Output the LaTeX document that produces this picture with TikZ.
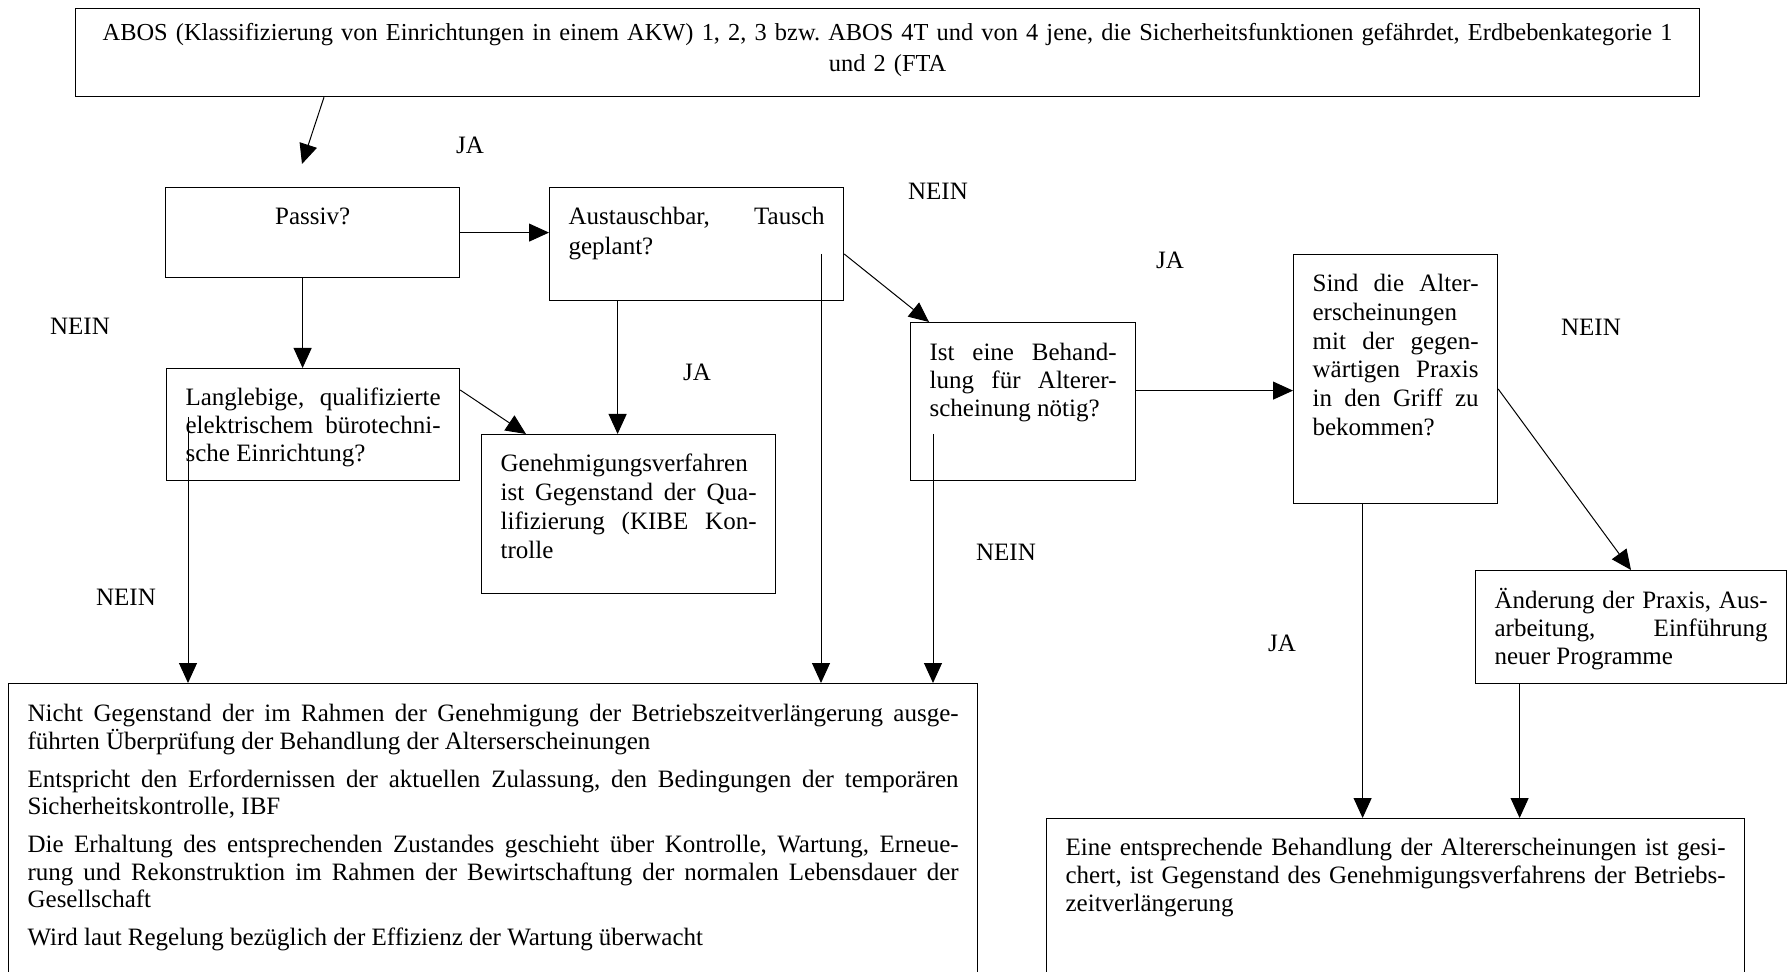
\documentclass[tikz,border=0pt]{standalone}
\usepackage{fontspec}
\setmainfont{Liberation Serif}
\usepackage{tikz}
\usetikzlibrary{calc,arrows.meta}
\tikzstyle{boite} = [rectangle, draw=black, line width=0.6pt, anchor=north west, inner xsep=9.5pt, inner ysep=0pt, text height=18.5pt, align=justify]
\tikzstyle{fleche} = [line width=0.5pt, -{Triangle[length=10pt,width=9pt]}]
\tikzstyle{reponse} = [inner sep=0pt]
\hyphenpenalty=10000
\frenchspacing

\begin{document}
\begin{tikzpicture}[x=1pt, y=1pt, font=\fontsize{12.5pt}{14pt}\selectfont]
        \useasboundingbox (0,0) rectangle (894,-486);
        \clip (0,0) rectangle (894,-486);

        \node (abos) [boite, text width=793pt, align=center, text height=16pt, text depth=28pt, font=\fontsize{12.2pt}{14pt}\selectfont] at (37.5,-4) {ABOS (Klassifizierung von Einrichtungen in einem AKW) 1, 2, 3 bzw. ABOS 4T und von 4 jene, die Sicherheitsfunktionen gefährdet, Erdbebenkategorie 1\\[1.5pt]
            und 2 (FTA};

        \node (passiv) [boite, text width=128pt, align=center, text depth=26.5pt] at (82.5,-93.5) {Passiv?};
        \node (tausch) [boite, text width=128pt, text depth=38pt, font=\fontsize{12.5pt}{15pt}\selectfont] at (274.5,-93.5) {Austauschbar, Tausch\linebreak geplant?};
        \node (langlebig) [boite, text width=127.5pt, text depth=37.5pt] at (83,-184) {Langlebige, qualifizierte\linebreak elektrischem bürotechni-\linebreak sche Einrichtung?};
        \node (genehm) [boite, text width=128pt, text depth=61pt, font=\fontsize{12.5pt}{14.5pt}\selectfont] at (240.5,-217) {Genehmigungsverfahren\linebreak ist Gegenstand der Qua-\linebreak lifizierung (KIBE Kon-\linebreak trolle};
        \node (behandl) [boite, text width=93.5pt, text height=19pt, text depth=60pt] at (455,-161) {Ist eine Behand-\linebreak lung für Alterer-\linebreak scheinung nötig?};
        \node (praxis) [boite, text width=83pt, text depth=106pt, font=\fontsize{12.5pt}{14.4pt}\selectfont] at (646.5,-127) {Sind die Alter-\linebreak erscheinungen\linebreak mit der gegen-\linebreak wärtigen Praxis\linebreak in den Griff zu\linebreak bekommen?};
        \node (aenderung) [boite, text width=136.5pt, text height=19pt, text depth=37.5pt] at (737.5,-285) {Änderung der Praxis, Aus-\linebreak arbeitung, Einführung\linebreak neuer Programme};

        \node (nicht) [boite, text width=465.5pt, text height=19pt, text depth=131pt, font=\fontsize{12.5pt}{13.75pt}\selectfont] at (4,-341.5) {\parskip=5.25pt
            Nicht Gegenstand der im Rahmen der Genehmigung der Betriebszeitverlängerung ausge-\linebreak führten Überprüfung der Behandlung der Alterserscheinungen\par
            Entspricht den Erfordernissen der aktuellen Zulassung, den Bedingungen der temporären\linebreak Sicherheitskontrolle, IBF\par
            Die Erhaltung des entsprechenden Zustandes geschieht über Kontrolle, Wartung, Erneue-\linebreak rung und Rekonstruktion im Rahmen der Bewirtschaftung der normalen Lebensdauer der\linebreak Gesellschaft\par
            Wird laut Regelung bezüglich der Effizienz der Wartung überwacht};
        \node (gesichert) [boite, text width=330pt, text depth=63.5pt] at (523,-409) {Eine entsprechende Behandlung der Altererscheinungen ist gesi-\linebreak chert, ist Gegenstand des Genehmigungsverfahrens der Betriebs-\linebreak zeitverlängerung};

        \node (ja1) [reponse] at (235,-72.5) {JA};
        \node (nein1) [reponse] at (469,-95.5) {NEIN};
        \node (nein2) [reponse] at (40,-163) {NEIN};
        \node (ja2) [reponse] at (348.5,-186) {JA};
        \node (ja3) [reponse] at (585,-130) {JA};
        \node (nein3) [reponse] at (795.5,-163.5) {NEIN};
        \node (nein4) [reponse] at (503,-276) {NEIN};
        \node (nein5) [reponse] at (63,-298.5) {NEIN};
        \node (ja4) [reponse] at (641,-321.5) {JA};

        \coordinate (depart) at ([xshift=124.5pt]abos.south west);
        \coordinate (arrivee) at (151,-82);
        \coordinate (g1) at ([xshift=-5.5pt]genehm.north);
        \coordinate (t1) at (410.5,-127);
        \coordinate (t2) at (94,-208.5);
        \coordinate (t3) at (466.5,-217);
        \coordinate (b1) at ([yshift=5.5pt]behandl.east);
        \coordinate (s1) at ([xshift=-16.5pt]praxis.south);
        \coordinate (a1) at ([xshift=-55.75pt]aenderung.south);

        \draw[fleche] (depart) -- (arrivee);
        \draw[fleche] (passiv.east) -- (passiv.east -| tausch.west);
        \draw[fleche] ([xshift=-5pt]passiv.south) -- ([xshift=-5pt]passiv.south |- langlebig.north);
        \draw[fleche] (tausch.south -| g1) -- (g1);
        \draw[fleche] (t1) -- (t1 |- nicht.north);
        \draw[fleche] ([yshift=-33.5pt]tausch.north east) -- ([xshift=9.5pt]behandl.north west);
        \draw[fleche] ([yshift=-11pt]langlebig.north east) -- ([xshift=22.5pt]genehm.north west);
        \draw[fleche] (t2) -- (t2 |- nicht.north);
        \draw[fleche] (t3) -- (t3 |- nicht.north);
        \draw[fleche] (b1) -- (b1 -| praxis.west);
        \draw[fleche] ([yshift=-67.5pt]praxis.north east) -- ([xshift=78pt]aenderung.north west);
        \draw[fleche] (s1) -- (s1 |- gesichert.north);
        \draw[fleche] (a1) -- (a1 |- gesichert.north);

    \end{tikzpicture}
\end{document}
